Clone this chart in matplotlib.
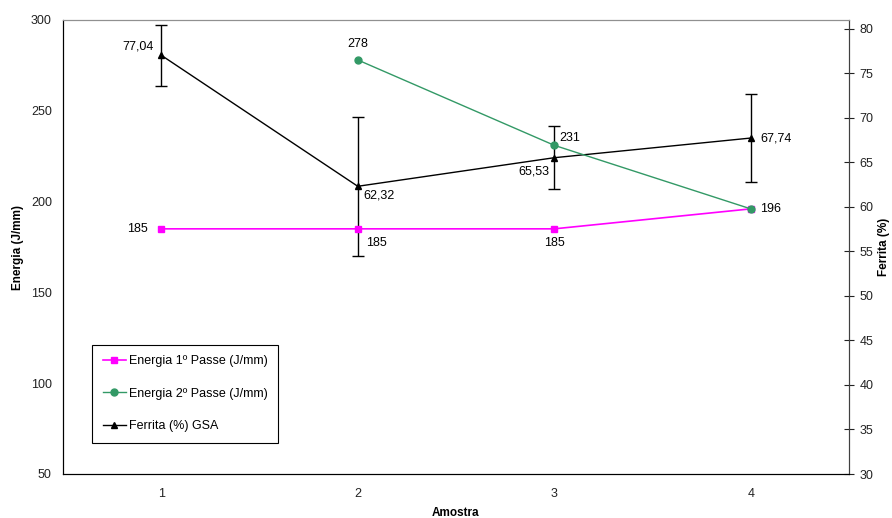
import matplotlib.pyplot as plt
from matplotlib.lines import Line2D
import numpy as np

plt.rcParams['font.family'] = ['Liberation Sans', 'DejaVu Sans']
plt.rcParams['font.size'] = 9

# data
amostra = [1, 2, 3, 4]
energia_1 = [185, 185, 185, 196]
energia_2 = [np.nan, 278, 231, 196]
ferrita = [77.04, 62.32, 65.53, 67.74]
ferrita_err = [3.4, 7.8, 3.55, 4.95]

# label offsets in pixels (dx, dy, ha)
off_e1 = [(-13, 0, 'right'), (8, -14, 'left'), (0, -14, 'center'), (9, 0, 'left')]
off_e2 = [None, (0, 16, 'center'), (5, 7, 'left'), None]
off_fe = [(-8, 9, 'right'), (6, -9, 'left'), (-5, -14, 'right'), (10, 0, 'left')]

fig = plt.figure(figsize=(8.92, 5.18), dpi=100)
ax = fig.add_axes([63 / 892, 44 / 518, 786 / 892, 454 / 518])
ax2 = ax.twinx()

px = 0.72  # pixels -> points

l1, = ax.plot(amostra, energia_1, color='#FF00FF', marker='s', markersize=5,
              linewidth=1.2, label='Energia 1º Passe (J/mm)', zorder=3)
l2, = ax.plot(amostra, energia_2, color='#339966', marker='o', markersize=5,
              linewidth=1.0, label='Energia 2º Passe (J/mm)', zorder=4)
ax2.errorbar(amostra, ferrita, yerr=ferrita_err, color='black', marker='^',
             markersize=5, linewidth=1.0, elinewidth=1.0, capsize=4, capthick=1.0)
l3 = Line2D([], [], color='black', marker='^', markersize=5, linewidth=1.0,
            label='Ferrita (%) GSA')

for x, y, o in zip(amostra, energia_1, off_e1):
    ax.annotate(str(y), (x, y), xytext=(o[0] * px, o[1] * px), textcoords='offset points',
                ha=o[2], va='center', fontsize=9)
for x, y, o in zip(amostra, energia_2, off_e2):
    if o is None:
        continue
    ax.annotate(str(y), (x, y), xytext=(o[0] * px, o[1] * px), textcoords='offset points',
                ha=o[2], va='center', fontsize=9)
for x, y, o in zip(amostra, ferrita, off_fe):
    ax2.annotate(f'{y:.2f}'.replace('.', ','), (x, y), xytext=(o[0] * px, o[1] * px),
                 textcoords='offset points', ha=o[2], va='center', fontsize=9)

ax.set_xlim(0.5, 4.5)
ax.set_ylim(50, 300)
ax.set_yticks([50, 100, 150, 200, 250, 300])
ax.set_xticks(amostra)
ax.tick_params(axis='both', length=0, pad=10, labelsize=9, colors='#222222')
ax.tick_params(axis='y', pad=8)

ax2.set_ylim(30, 81.0)
ax2.set_yticks(np.arange(30, 81, 5))
ax2.tick_params(axis='y', direction='inout', length=7, pad=4, labelsize=9,
                colors='#222222')

ax.set_xlabel('Amostra', fontweight='bold', fontsize=8.5, labelpad=5)
ax.set_ylabel('Energia (J/mm)', fontweight='bold', fontsize=8.5, labelpad=5)
ax2.set_ylabel('Ferrita (%)', fontweight='bold', fontsize=8.5, rotation=90, labelpad=3)

for a in (ax, ax2):
    a.spines['top'].set_color('#909090')
    a.spines['left'].set_color('black')
    a.spines['bottom'].set_color('black')
    a.spines['right'].set_color('#404040')

leg = ax.legend(handles=[l1, l2, l3], loc='lower left',
                bbox_to_anchor=(29 / 786, 31 / 454), fancybox=False,
                edgecolor='black', framealpha=1, labelspacing=1.65,
                handlelength=1.9, handletextpad=0.2, borderpad=0.85,
                borderaxespad=0, fontsize=9)
leg.get_frame().set_linewidth(0.8)
ax.set_zorder(ax2.get_zorder() + 1)
ax.patch.set_visible(False)

fig.savefig('out.png', dpi=100)
